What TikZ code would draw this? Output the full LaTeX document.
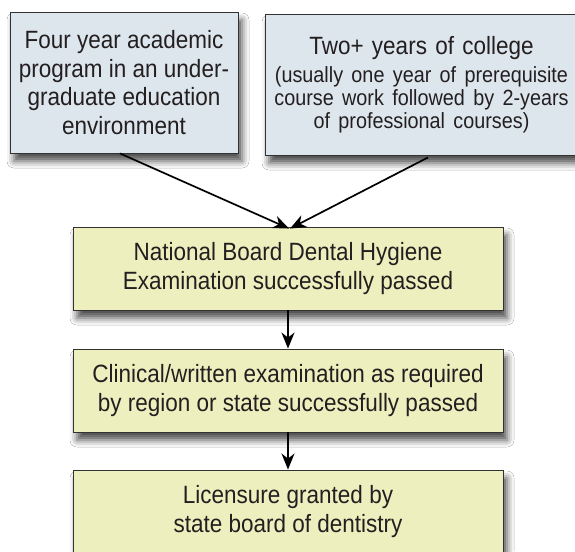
\documentclass[tikz,border=0pt]{standalone}
\usepackage{fontspec}
\setmainfont{Liberation Sans}[FakeStretch=0.9]
\usetikzlibrary{shadows.blur,arrows.meta}
\definecolor{bluebox}{RGB}{222,230,237}
\definecolor{yellowbox}{RGB}{237,240,190}
\definecolor{txt}{RGB}{35,31,32}
\definecolor{edge}{RGB}{50,50,50}
\tikzset{
  box/.style={draw=edge, line width=0.9pt, inner sep=0pt, align=center,
    text=txt, font=\fontsize{25}{28.5}\selectfont,
    blur shadow={shadow xshift=4pt, shadow yshift=-8pt, shadow blur radius=7pt, shadow opacity=70}},
  topbox/.style={box, fill=bluebox, minimum height=141pt},
  flowbox/.style={box, fill=yellowbox, minimum width=430pt, minimum height=83pt},
  arr/.style={line width=1.7pt, black, -{Stealth[length=16pt,width=13pt,inset=5pt]}}
}
\begin{document}
\begin{tikzpicture}[x=1pt,y=-1pt]
\useasboundingbox[fill=white] (0,0) rectangle (575,551);
\node[topbox, minimum width=228pt] (A) at (124,82.5)
  {Four year academic\\program in an under-\\graduate education\\environment};
\node[topbox, minimum width=313pt, text width=305pt] (B) at (421.5,84.5)
  {\fontsize{25}{28}\selectfont Two+ years of college\par\vspace{5pt}%
   \fontsize{22}{23}\selectfont (usually one year of prerequisite\\course work followed by 2-years\\of professional courses)\par};
\node[flowbox] (C) at (288,268.5)
  {National Board Dental Hygiene\\Examination successfully passed};
\node[flowbox] (D) at (288,390.5)
  {Clinical/written examination as required\\by region or state successfully passed};
\node[flowbox] (E) at (288,511.5)
  {Licensure granted by\\state board of dentistry};
\draw[arr] ([xshift=-4pt]A.south) -- ([xshift=1pt,yshift=-2pt]C.north);
\draw[arr] ([xshift=6.5pt,yshift=-2pt]B.south) -- ([xshift=2pt,yshift=-2pt]C.north);
\draw[arr] (C.south) -- (D.north);
\draw[arr] (D.south) -- (E.north);
\end{tikzpicture}
\end{document}
